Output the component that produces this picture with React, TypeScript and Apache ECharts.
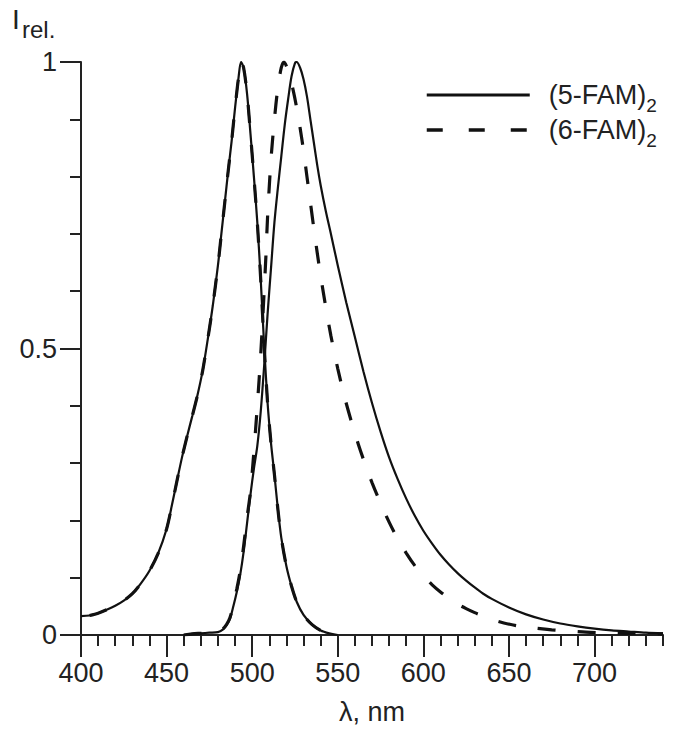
import React, { useEffect, useRef } from "react";
import * as echarts from "echarts";

// Excitation spectrum (same for both dyes)
const excWl = [400, 405, 410, 415, 420, 425, 430, 435, 440, 445, 450, 453, 456, 459, 462, 465, 468, 471, 474, 477, 480, 482, 484, 486, 488, 490, 492, 493.5, 495, 497, 499, 501, 503, 505, 507, 509, 511, 513, 515, 517, 520, 523, 526, 530, 535, 540, 545, 550];
const excI = [0.033, 0.034, 0.038, 0.044, 0.051, 0.06, 0.072, 0.09, 0.112, 0.142, 0.185, 0.225, 0.268, 0.31, 0.347, 0.382, 0.418, 0.46, 0.515, 0.575, 0.645, 0.7, 0.755, 0.81, 0.862, 0.92, 0.972, 1.0, 0.99, 0.945, 0.875, 0.8, 0.72, 0.62, 0.505, 0.405, 0.335, 0.28, 0.22, 0.17, 0.12, 0.085, 0.058, 0.035, 0.018, 0.008, 0.003, 0.0];

// (6-FAM)2 excitation (dashed) starts slightly later
const exc6Wl = [405, 410, 415, 420, 425, 430, 435, 440, 445, 450, 453, 456, 459, 462, 465, 468, 471, 474, 477, 480, 482, 484, 486, 488, 490, 492, 493.5, 495, 497, 499, 501, 503, 505, 507, 509, 511, 513, 515, 517, 520, 523, 526, 530, 535, 540, 545, 550];
const exc6I = [0.034, 0.038, 0.044, 0.051, 0.06, 0.072, 0.09, 0.112, 0.142, 0.185, 0.225, 0.268, 0.31, 0.347, 0.382, 0.418, 0.46, 0.515, 0.575, 0.645, 0.7, 0.755, 0.81, 0.862, 0.92, 0.972, 1.0, 0.99, 0.945, 0.875, 0.8, 0.72, 0.62, 0.505, 0.405, 0.335, 0.28, 0.22, 0.17, 0.12, 0.085, 0.058, 0.035, 0.018, 0.008, 0.003, 0.0];

// (5-FAM)2 emission (solid)
const em5Wl = [460, 465, 470, 475, 480, 483, 485, 487, 489, 491, 493, 495, 497, 499, 501, 503, 505, 507, 509, 511, 513, 515, 517, 519, 521, 523, 525, 526, 528, 530, 532, 534, 536, 538, 540, 543, 546, 550, 555, 560, 565, 570, 575, 580, 585, 590, 595, 600, 605, 610, 615, 620, 625, 630, 635, 640, 650, 660, 670, 680, 690, 700, 710, 720, 730, 740];
const em5I = [0.0, 0.002, 0.003, 0.004, 0.005, 0.01, 0.017, 0.028, 0.05, 0.075, 0.105, 0.145, 0.195, 0.245, 0.29, 0.33, 0.39, 0.47, 0.56, 0.64, 0.72, 0.78, 0.835, 0.89, 0.935, 0.975, 0.998, 1.0, 0.99, 0.97, 0.94, 0.9, 0.86, 0.82, 0.785, 0.74, 0.7, 0.645, 0.58, 0.52, 0.46, 0.405, 0.355, 0.31, 0.272, 0.238, 0.208, 0.182, 0.16, 0.14, 0.123, 0.108, 0.095, 0.083, 0.072, 0.063, 0.048, 0.036, 0.027, 0.02, 0.015, 0.011, 0.008, 0.006, 0.004, 0.003];

// (6-FAM)2 emission (dashed)
const em6Wl = [460, 465, 470, 475, 480, 483, 485, 487, 489, 491, 493, 495, 497, 499, 501, 503, 505, 507, 508, 509, 511, 513, 515, 517, 518.5, 520, 522, 524, 526, 528, 530, 532, 534, 536, 538, 540, 543, 546, 550, 554, 558, 562, 566, 570, 575, 580, 585, 590, 595, 600, 605, 610, 615, 620, 625, 630, 635, 640, 647, 655, 665, 675, 685, 695, 705, 720, 740];
const em6I = [0.0, 0.002, 0.003, 0.004, 0.006, 0.011, 0.018, 0.03, 0.053, 0.08, 0.112, 0.155, 0.205, 0.25, 0.32, 0.4, 0.49, 0.6, 0.66, 0.73, 0.83, 0.9, 0.955, 0.99, 1.0, 0.993, 0.975, 0.95, 0.92, 0.885, 0.845, 0.8, 0.755, 0.71, 0.667, 0.627, 0.572, 0.522, 0.465, 0.415, 0.372, 0.333, 0.298, 0.266, 0.23, 0.197, 0.168, 0.143, 0.121, 0.103, 0.088, 0.075, 0.064, 0.054, 0.046, 0.039, 0.033, 0.027, 0.021, 0.016, 0.012, 0.009, 0.007, 0.005, 0.004, 0.003, 0.002];

const xMajorTicks = [400, 450, 500, 550, 600, 650, 700];
const seriesNames = ["(5-FAM)2", "(6-FAM)2"];
const legendLabels = ["(5-FAM){s|2}", "(6-FAM){s|2}"];
const xName = "λ, nm";
const yNameMain = "I";
const yNameSub = "rel.";

const zip = (a: number[], b: number[]) => a.map((v, i) => [v, b[i]]);

const FONT = "'Liberation Sans', Arial, sans-serif";
const INK = "#222";

export default function App() {
  const ref = useRef<HTMLDivElement>(null);
  useEffect(() => {
    document.body.style.margin = "0";
    const chart = echarts.init(ref.current!, null, { renderer: "svg" });
    const axisLineStyle = { color: INK, width: 2 };
    chart.setOption({
      animation: false,
      backgroundColor: "#fff",
      grid: { left: 81, right: 18, top: 62, bottom: 87 },
      legend: {
        orient: "vertical",
        left: 425,
        top: 75,
        padding: 0,
        itemWidth: 103,
        itemHeight: 24,
        itemGap: -5,
        selectedMode: false,
        itemStyle: { opacity: 0, borderWidth: 0 },
        data: [
          { name: seriesNames[0], itemStyle: { opacity: 0, borderWidth: 0 }, lineStyle: { width: 3, type: "solid", color: "#111", opacity: 1 } },
          { name: seriesNames[1], itemStyle: { opacity: 0, borderWidth: 0 }, lineStyle: { width: 3.5, type: [16, 26], color: "#111", opacity: 1 } },
        ],
        formatter: (n: string) => legendLabels[seriesNames.indexOf(n)],
        textStyle: {
          fontFamily: FONT,
          fontSize: 27,
          color: INK,
          padding: [0, 0, 0, 14],
          lineHeight: 40,
          rich: {
            s: { fontFamily: FONT, fontSize: 19, color: INK, verticalAlign: "bottom", lineHeight: 19 },
          },
        },
      },
      xAxis: [
        {
          type: "value",
          min: 400,
          max: 740,
          interval: 50,
          name: xName,
          nameLocation: "middle",
          nameGap: 63,
          nameTextStyle: { fontFamily: FONT, fontSize: 27, color: INK },
          axisLine: { onZero: false, lineStyle: axisLineStyle },
          axisTick: { customValues: xMajorTicks, length: 22, lineStyle: axisLineStyle },
          axisLabel: { customValues: xMajorTicks, margin: 24, fontFamily: FONT, fontSize: 27, color: INK },
          splitLine: { show: false },
        },
        {
          type: "value",
          position: "bottom",
          min: 400,
          max: 740,
          interval: 10,
          axisLine: { show: false, onZero: false },
          axisTick: { length: 11, lineStyle: axisLineStyle },
          axisLabel: { show: false },
          splitLine: { show: false },
        },
      ],
      yAxis: {
        type: "value",
        min: 0,
        max: 1,
        interval: 0.5,
        axisLine: { show: true, onZero: false, lineStyle: axisLineStyle },
        axisTick: { show: true, length: 21, lineStyle: axisLineStyle },
        minorTick: { show: true, splitNumber: 5, length: 11, lineStyle: axisLineStyle },
        axisLabel: { margin: 24, fontFamily: FONT, fontSize: 27, color: INK },
        splitLine: { show: false },
        minorSplitLine: { show: false },
      },
      graphic: [
        { type: "text", x: 12, y: 19, style: { text: yNameMain, font: `28px ${FONT}`, fill: INK, verticalAlign: "middle" } },
        { type: "text", x: 22, y: 29, style: { text: yNameSub, font: `24px ${FONT}`, fill: INK, verticalAlign: "middle" } },
      ],
      series: [
        {
          name: seriesNames[0], type: "line", data: zip(excWl, excI), showSymbol: false, symbol: "none",
          smooth: 0.3, lineStyle: { color: "#111", width: 2.2, type: "solid" }, itemStyle: { color: "#111" },
        },
        {
          name: seriesNames[0], type: "line", data: zip(em5Wl, em5I), showSymbol: false, symbol: "none",
          smooth: 0.3, lineStyle: { color: "#111", width: 2.2, type: "solid" }, itemStyle: { color: "#111" },
        },
        {
          name: seriesNames[1], type: "line", data: zip(exc6Wl, exc6I), showSymbol: false, symbol: "none",
          smooth: 0.3, lineStyle: { color: "#111", width: 3.2, type: [18, 22] }, itemStyle: { color: "#111" },
        },
        {
          name: seriesNames[1], type: "line", data: zip(em6Wl, em6I), showSymbol: false, symbol: "none",
          smooth: 0.3, lineStyle: { color: "#111", width: 3.2, type: [18, 22] }, itemStyle: { color: "#111" },
        },
      ],
    });
    return () => chart.dispose();
  }, []);
  return <div ref={ref} style={{ width: 681, height: 730 }} />;
}
